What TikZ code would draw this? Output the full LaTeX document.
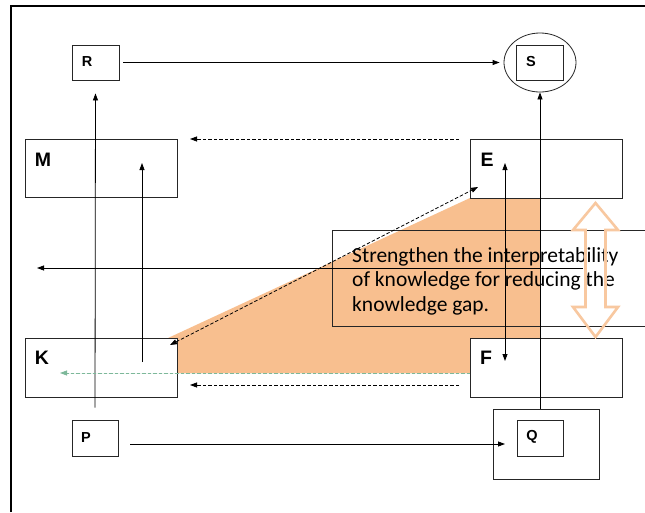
\documentclass[tikz,border=0pt]{standalone}
\usepackage{fontspec}
\setmainfont{Carlito}
\newfontfamily\labfont{Liberation Sans}
\usetikzlibrary{arrows.meta,shapes.geometric}
\definecolor{fillorange}{HTML}{F8BF8F}
\definecolor{arroworange}{HTML}{F8C8A0}
\definecolor{dashgreen}{HTML}{7DB89A}
\begin{document}
\begin{tikzpicture}[x=1pt,y=-1pt,
  box/.style={draw=black!85,line width=0.8pt,fill=white,inner sep=0pt},
  biglab/.style={font=\labfont\bfseries\fontsize{19.5}{19.5}\selectfont,inner sep=0pt},
  smalllab/.style={font=\labfont\bfseries\fontsize{14.5}{14.5}\selectfont,inner sep=0pt},
  txt/.style={font=\fontsize{21.5}{24}\selectfont,inner sep=0pt,anchor=base west},
  conn/.style={line width=0.8pt,-{Triangle[length=7pt,width=5pt]}},
  dconn/.style={line width=0.8pt,{Triangle[length=7pt,width=5pt]}-{Triangle[length=7pt,width=5pt]}},
  dashconn/.style={line width=0.8pt,dash pattern=on 3.5pt off 2pt,-{Triangle[length=7pt,width=5pt]}},
]
\useasboundingbox (0,0) rectangle (645,512);
\fill[white] (0,0) rectangle (645,512);
% orange region
\fill[fillorange] (168,338) -- (470,198) -- (540,198) -- (540,373) -- (168,373) -- cycle;
% frame
\draw[line width=2.6pt] (11,512) -- (11,6) -- (645,6);
% boxes
\node[box,minimum width=152pt,minimum height=58pt] (M) at (101,168) {};
\node[box,minimum width=152pt,minimum height=59pt] (K) at (101,367.5) {};
\node[box,minimum width=152pt,minimum height=59pt] (E) at (546,168.5) {};
\node[box,minimum width=152pt,minimum height=59pt] (F) at (546,367.5) {};
\node[box,minimum width=47pt,minimum height=35pt] (R) at (95.5,62.5) {};
\node[box,minimum width=46pt,minimum height=36pt] (P) at (95,438) {};
\node[box,ellipse,minimum width=72pt,minimum height=59pt] (Se) at (540,62.5) {};
\node[box,minimum width=47pt,minimum height=35pt] (S) at (540,63) {};
\node[box,minimum width=106pt,minimum height=70pt] (Qo) at (546,444) {};
\node[box,minimum width=46pt,minimum height=36pt] (Q) at (540,438) {};
% text box (transparent)
\node[draw=black!85,line width=0.8pt,minimum width=328pt,minimum height=96pt,inner sep=0pt] (tb) at (496,278) {};
% named coordinates
\coordinate (k1) at (142,362);
\coordinate (m1) at (142,163);
\coordinate (e1) at (505,163);
\coordinate (f1) at (505,361);
\coordinate (t1) at (583,268);
\coordinate (l1) at (37,268);
\coordinate (e2) at (459,139);
\coordinate (m2) at (190,139);
\coordinate (f2) at (459,385);
\coordinate (k2) at (190,385);
\coordinate (f3) at (470,373);
\coordinate (k3) at (60,373);
\coordinate (k4) at (170,345);
\coordinate (e4) at (478,187);
\coordinate (p1) at (130,444);
\coordinate (q1) at (505,444);
% connectors
\draw[conn,shorten <=4pt,shorten >=4pt] (R.east) -- (Se.west);
\draw[conn] (p1) -- (q1);
\draw[conn,shorten <=12pt,shorten >=13pt] (P.north) -- (R.south);
\draw[conn] (k1) -- (m1);
\draw[dconn] (f1) -- (e1);
\draw[conn] (Se.south |- Qo.north) -- (Se.south);
\draw[conn] (t1) -- (l1);
\draw[dashconn] (e2) -- (m2);
\draw[dashconn] (f2) -- (k2);
\draw[dashconn,draw=dashgreen,fill=dashgreen] (f3) -- (k3);
\draw[line width=0.8pt,dash pattern=on 3.5pt off 2pt,{Triangle[length=7pt,width=5pt]}-{Triangle[length=7pt,width=5pt]}] (k4) -- (e4);
% labels
\node[biglab] (Ml) at (43,160) {M};
\node[biglab] (Kl) at (42,358) {K};
\node[biglab] (El) at (487,160) {E};
\node[biglab] (Fl) at (486,358) {F};
\node[smalllab] (Rl) at (87,62) {R};
\node[smalllab] (Sl) at (531,62) {S};
\node[smalllab] (Pl) at (86,438) {P};
\node[smalllab] (Ql) at (532,437) {Q};
% text
\node[txt] (tx1) at (352,262) {Strengthen the interpretability};
\node[txt] (tx2) at (352,286.5) {of knowledge for reducing the};
\node[txt] (tx3) at (352,311) {knowledge gap.};
% double arrow outline
\draw[arroworange,line width=2.6pt,line join=miter] (595.5,203) -- (618,230) -- (605.5,230) -- (605.5,307) -- (618,307) -- (595.5,337) -- (573,307) -- (585.5,307) -- (585.5,230) -- (573,230) -- cycle;
\end{tikzpicture}
\end{document}
